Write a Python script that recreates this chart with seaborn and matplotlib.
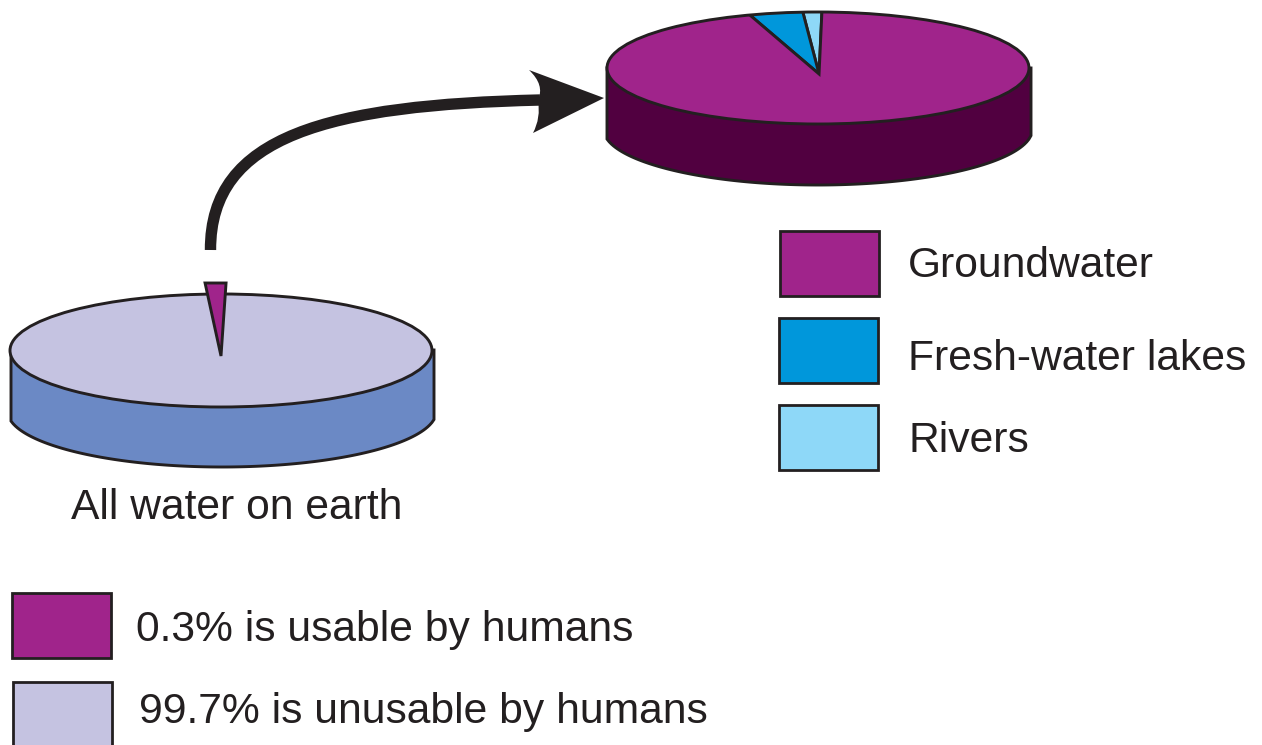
import numpy as np
import matplotlib
matplotlib.use("Agg")
import matplotlib.pyplot as plt
import seaborn as sns
from matplotlib.patches import Circle, Polygon, Rectangle, PathPatch
from matplotlib.path import Path

# Percent of all water on earth
earth_labels = ["0.3% is usable by humans", "99.7% is unusable by humans"]
earth_shares = [0.3, 99.7]

# Percent of the usable water, counter-clockwise from the top of the disc
usable_labels = ["Rivers", "Fresh-water lakes", "Groundwater"]
usable_shares = [1.3, 3.7, 95.0]

caption = "All water on earth"

sns.set_theme(style="white")
plt.rcParams["font.family"] = ["Liberation Sans", "DejaVu Sans"]

INK = "#231f20"
PURPLE = "#a0248b"
LAVENDER = "#c5c3e1"
usable_colors = sns.color_palette(["#8ed8f8", "#0097db", PURPLE])
earth_colors = sns.color_palette([PURPLE, LAVENDER])

W, H = 1262, 745
EDGE = 2.1
BOX_EDGE = 2.0
FONT = 30.7

fig = plt.figure(figsize=(W / 100, H / 100), dpi=100, facecolor="white")

# Full-figure canvas measured in pixels, for walls, arrow, swatches and text
canvas = fig.add_axes([0, 0, 1, 1], zorder=0)
canvas.set_xlim(0, W)
canvas.set_ylim(H, 0)
canvas.set_axis_off()


def px_axes(left, top, right, bottom, zorder):
    return fig.add_axes(
        [left / W, 1 - bottom / H, (right - left) / W, (bottom - top) / H],
        zorder=zorder,
    )


def draw_wall(left, right, top_y, cx, cy, a, b, color):
    xs = np.linspace(left, right, 200)
    ys = cy + b * np.sqrt(np.clip(1 - ((xs - cx) / a) ** 2, 0, 1))
    pts = np.column_stack([np.r_[left, xs, right], np.r_[top_y, ys, top_y]])
    canvas.add_patch(Polygon(pts, closed=True, fc=color, ec=INK, lw=EDGE, joinstyle="miter"))


def disc_axes(cx, cy, rx, ry):
    pad = 1.1
    ax = px_axes(cx - pad * rx, cy - pad * ry, cx + pad * rx, cy + pad * ry, 2)
    return ax, pad


def finish_disc(ax, pad):
    ax.set_aspect("auto")
    ax.set_xlim(-pad, pad)
    ax.set_ylim(-pad, pad)
    ax.add_patch(Circle((0, 0), 1, fc="none", ec=INK, lw=EDGE))


# Usable-water disc: slices meet slightly below the disc centre
draw_wall(607, 1031, 68, 818, 129, 214.5, 56, "#510040")
ax_top, pad = disc_axes(818, 68, 211, 56)
wedges, _ = ax_top.pie(
    usable_shares,
    colors=usable_colors,
    startangle=89.3,
    center=(0.005, -0.107),
    radius=1.35,
    wedgeprops=dict(edgecolor=INK, linewidth=EDGE, joinstyle="miter"),
)
finish_disc(ax_top, pad)
rim = Circle((0, 0), 1, transform=ax_top.transData, fc="none", ec="none")
ax_top.add_patch(rim)
for w in wedges:
    w.set_clip_on(True)
    w.set_clip_path(rim)

# All-water disc
draw_wall(11, 434, 350, 222, 411, 214.5, 56, "#6b89c5")
ax_low, pad = disc_axes(221, 350.5, 211, 56.5)
ax_low.pie(earth_shares, colors=earth_colors, startangle=89.7, wedgeprops=dict(linewidth=0))
finish_disc(ax_low, pad)

# The 0.3% slice again, on a horizontally magnified scale so that it stays legible
apex_x, apex_y, unit_x, unit_y = 221, 356, 1114, 73
l, t, r, b = 190, 270, 240, 370
ax_slice = px_axes(l, t, r, b, 3)
slices, _ = ax_slice.pie(
    earth_shares,
    colors=earth_colors,
    startangle=89.74,
    wedgeprops=dict(edgecolor=INK, linewidth=EDGE, joinstyle="miter"),
)
slices[1].set_visible(False)
ax_slice.set_aspect("auto")
ax_slice.set_xlim((l - apex_x) / unit_x, (r - apex_x) / unit_x)
ax_slice.set_ylim((apex_y - b) / unit_y, (apex_y - t) / unit_y)

# Curved arrow from the usable slice to the usable-water disc
shaft = Path(
    [(210.5, 250), (210, 135), (330, 105), (540, 100)],
    [Path.MOVETO, Path.CURVE4, Path.CURVE4, Path.CURVE4],
)
canvas.add_patch(PathPatch(shaft, fc="none", ec=INK, lw=8.2, capstyle="butt"))
head = Path(
    [(604, 98), (529, 70), (545, 85), (538, 100), (541, 118), (533, 133), (604, 98)],
    [Path.MOVETO, Path.LINETO, Path.CURVE3, Path.CURVE3, Path.CURVE3, Path.CURVE3, Path.CLOSEPOLY],
)
canvas.add_patch(PathPatch(head, fc=INK, ec="none"))

# Legend for the usable-water disc
for (x0, y0, x1, y1), color, label, tx, ty in zip(
    [(779, 405, 878, 470), (779, 318, 878, 383), (780, 231, 879, 296)],
    usable_colors,
    usable_labels,
    [908, 908, 908],
    [452, 370, 277],
):
    canvas.add_patch(Rectangle((x0, y0), x1 - x0, y1 - y0, fc=color, ec=INK, lw=BOX_EDGE))
    canvas.text(tx, ty, label, fontsize=FONT, color=INK, va="baseline", ha="left")

# Legend for the all-water disc
for (x0, y0, x1, y1), color, label, tx, ty in zip(
    [(12, 593, 111, 658), (13, 682, 112, 748)],
    earth_colors,
    earth_labels,
    [136, 139],
    [641, 723],
):
    canvas.add_patch(Rectangle((x0, y0), x1 - x0, y1 - y0, fc=color, ec=INK, lw=BOX_EDGE))
    canvas.text(tx, ty, label, fontsize=FONT, color=INK, va="baseline", ha="left")

canvas.text(71, 519, caption, fontsize=FONT, color=INK, va="baseline", ha="left")

fig.savefig("out.png", dpi=100, facecolor="white")
